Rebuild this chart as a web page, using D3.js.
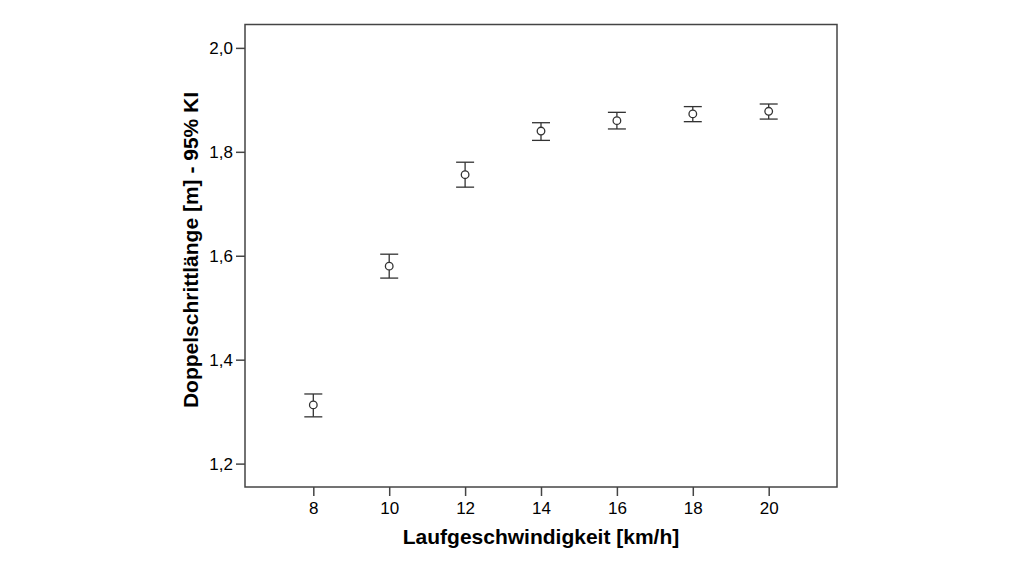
<!DOCTYPE html>
<html><head><meta charset="utf-8">
<script src="https://cdn.jsdelivr.net/npm/d3@7"></script>
<style>body{margin:0;background:#fff;}svg{display:block;font-family:"Liberation Sans",Arial,sans-serif;}</style>
</head><body>
<svg id="c" width="1024" height="576"></svg>
<script>
const speeds = [8, 10, 12, 14, 16, 18, 20];
const means = [1.313, 1.580, 1.756, 1.840, 1.860, 1.873, 1.878];
const lower = [1.290, 1.557, 1.732, 1.822, 1.844, 1.858, 1.863];
const upper = [1.334, 1.603, 1.780, 1.856, 1.876, 1.887, 1.892];
const xTicks = [8, 10, 12, 14, 16, 18, 20];
const yTicks = [1.2, 1.4, 1.6, 1.8, 2.0];
const xTitle = "Laufgeschwindigkeit [km/h]";
const yTitle = "Doppelschrittlänge [m] - 95% KI";

const svg = d3.select("#c");
const L = 245, R = 837, T = 24.5, B = 487;
const x = d3.scaleLinear().domain([6.2, 21.8]).range([L, R]);
const y = d3.scaleLinear().domain([1.155, 2.045]).range([B, T]);
const ink = "#333";

// frame
svg.append("rect").attr("x", L).attr("y", T).attr("width", R - L).attr("height", B - T)
  .attr("fill", "none").attr("stroke", "#444").attr("stroke-width", 1.5);

const fmt = d => d3.format(".1f")(d).replace(".", ",");
const xa = svg.append("g").attr("transform", `translate(0,${B})`)
  .call(d3.axisBottom(x).tickValues(xTicks).tickSize(9).tickPadding(6).tickSizeOuter(0));
const ya = svg.append("g").attr("transform", `translate(${L},0)`)
  .call(d3.axisLeft(y).tickValues(yTicks).tickFormat(fmt).tickSize(9).tickPadding(3).tickSizeOuter(0));
[xa, ya].forEach(a => {
  a.select(".domain").remove();
  a.selectAll(".tick line").attr("stroke", "#444").attr("stroke-width", 1.5);
  a.selectAll(".tick text").attr("fill", "#000").style("font-size", "17px");
});

// error bars
const capW = 9;
const g = svg.append("g").attr("stroke", ink).attr("stroke-width", 1.3).attr("fill", "none");
speeds.forEach((s, i) => {
  const cx = x(s);
  g.append("line").attr("x1", cx).attr("x2", cx).attr("y1", y(upper[i])).attr("y2", y(lower[i]));
  g.append("line").attr("x1", cx - capW).attr("x2", cx + capW).attr("y1", y(upper[i])).attr("y2", y(upper[i]));
  g.append("line").attr("x1", cx - capW).attr("x2", cx + capW).attr("y1", y(lower[i])).attr("y2", y(lower[i]));
  g.append("circle").attr("cx", cx).attr("cy", y(means[i])).attr("r", 3.8).attr("fill", "#fff");
});

// titles
svg.append("text").attr("x", 541).attr("y", 544).attr("text-anchor", "middle")
  .style("font-size", "21px").style("font-weight", "bold").attr("fill", "#000").text(xTitle);
svg.append("text").attr("transform", `translate(198,250) rotate(-90)`).attr("text-anchor", "middle")
  .style("font-size", "21px").style("font-weight", "bold").attr("fill", "#000").text(yTitle);
</script>
</body></html>
